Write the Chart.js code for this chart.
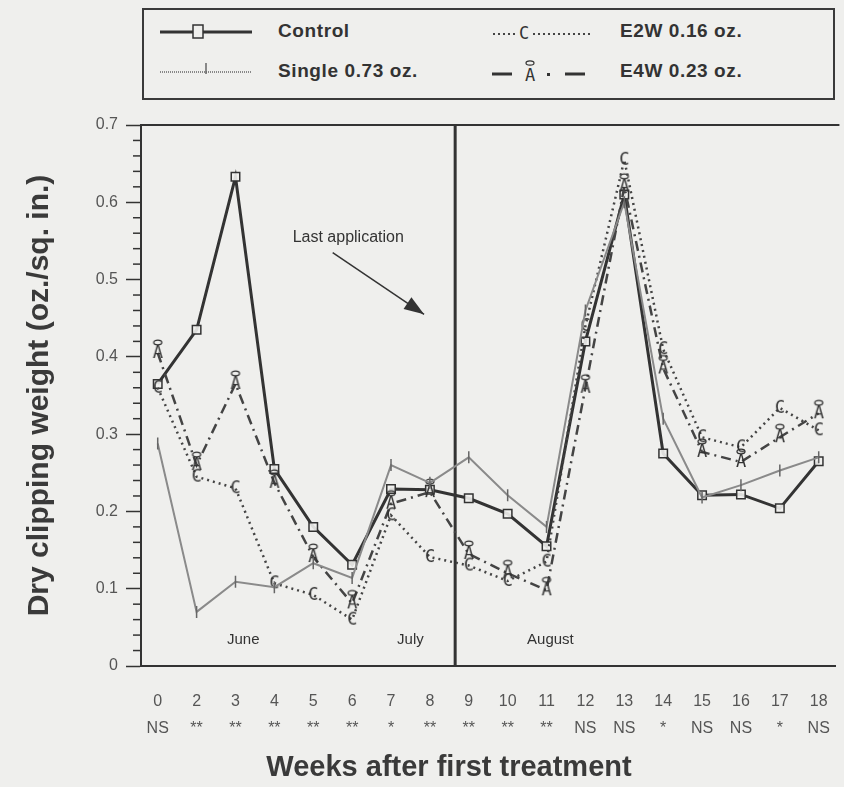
<!DOCTYPE html>
<html>
<head>
<meta charset="utf-8">
<script src="https://cdn.jsdelivr.net/npm/chart.js@4/dist/chart.umd.min.js"></script>
<style>
  body { margin: 0; background: #efefed; font-family: "Liberation Sans", Arial, sans-serif; }
  #wrap { position: relative; width: 844px; height: 787px; }
  #clipChart { position: absolute; left: 0; top: 0; }
  #legendBox {
    position: absolute; left: 142px; top: 8px; width: 689px; height: 88px;
    border: 2px solid #3a3a3a; background: #efefed;
  }
  .lg { position: absolute; font-weight: bold; font-size: 19px; color: #333; letter-spacing: 0.6px; }
</style>
</head>
<body>
<div id="wrap">
  <canvas id="clipChart" width="844" height="787"></canvas>
  <div id="legendBox">
    <svg width="689" height="88" style="position:absolute;left:0;top:0">
      <!-- Control -->
      <line x1="16" y1="22" x2="108" y2="22" stroke="#333" stroke-width="3"/>
      <rect x="49" y="15" width="10" height="13" fill="#efefed" stroke="#333" stroke-width="1.5"/>
      <!-- Single -->
      <line x1="16" y1="62" x2="108" y2="62" stroke="#888" stroke-width="2" stroke-dasharray="1,1"/>
      <line x1="62" y1="53" x2="62" y2="64" stroke="#666" stroke-width="1.5"/>
      <!-- E2W -->
      <line x1="349" y1="24" x2="449" y2="24" stroke="#444" stroke-width="2" stroke-dasharray="2,3"/>
      <rect x="373" y="11" width="14" height="19" fill="#efefed"/>
      <text x="380" y="29" text-anchor="middle" font-size="17" fill="#333" font-family="DejaVu Sans Mono">C</text>
      <!-- E4W -->
      <line x1="348" y1="64" x2="368" y2="64" stroke="#333" stroke-width="3"/>
      <text x="386" y="71" text-anchor="middle" font-size="17" fill="#333" font-family="DejaVu Sans Mono">A</text>
      <ellipse cx="386" cy="53" rx="4" ry="2.2" fill="none" stroke="#333" stroke-width="1.2"/>
      <rect x="403" y="63" width="3" height="3" fill="#333"/>
      <line x1="421" y1="64" x2="441" y2="64" stroke="#333" stroke-width="3"/>
    </svg>
    <div class="lg" style="left:134px;top:10px">Control</div>
    <div class="lg" style="left:134px;top:50px">Single 0.73 oz.</div>
    <div class="lg" style="left:476px;top:10px">E2W 0.16 oz.</div>
    <div class="lg" style="left:476px;top:50px">E4W 0.23 oz.</div>
  </div>
</div>
<script>
// weeks after first treatment (week 1 not sampled) and significance row
const weekLabels = ['0', '2', '3', '4', '5', '6', '7', '8', '9', '10', '11', '12', '13', '14', '15', '16', '17', '18'];
const sigLabels = ['NS', '**', '**', '**', '**', '**', '*', '**', '**', '**', '**', 'NS', 'NS', '*', 'NS', 'NS', '*', 'NS'];

// dry clipping weight, oz./sq. in.
const controlValues = [0.365, 0.435, 0.633, 0.255, 0.18, 0.131, 0.229, 0.228, 0.217, 0.197, 0.155, 0.42, 0.61, 0.275, 0.221, 0.222, 0.204, 0.265];
const singleValues = [0.288, 0.07, 0.109, 0.102, 0.133, 0.114, 0.26, 0.237, 0.27, 0.221, 0.18, 0.46, 0.60, 0.32, 0.218, 0.234, 0.253, 0.27];
const e2wValues = [0.36, 0.245, 0.23, 0.107, 0.092, 0.06, 0.195, 0.141, 0.13, 0.11, 0.135, 0.44, 0.655, 0.41, 0.296, 0.283, 0.334, 0.305];
const e4wValues = [0.405, 0.26, 0.365, 0.237, 0.141, 0.081, 0.21, 0.225, 0.145, 0.12, 0.098, 0.36, 0.62, 0.385, 0.277, 0.264, 0.296, 0.327];

const lastApplication = 7.65;   // between week 8 and week 9
const monthNotes = [
    { text: 'June', x: 2.2 },
    { text: 'July', x: 6.5 },
    { text: 'August', x: 10.1 }
];

function toPoints(values) {
    return values.map((v, i) => ({ x: i, y: v }));
}

// letter markers like the old plotting program used
function letterMarker(ch, ring) {
    const c = document.createElement('canvas');
    c.width = 16;
    c.height = 30;
    const g = c.getContext('2d');
    g.fillStyle = '#333';
    g.font = '17px "DejaVu Sans Mono"';
    g.textAlign = 'center';
    g.textBaseline = 'middle';
    g.fillText(ch, 8, 16);
    if (ring) {
        g.strokeStyle = '#333';
        g.lineWidth = 1.3;
        g.beginPath();
        g.ellipse(8, 4.5, 4, 2.3, 0, 0, Math.PI * 2);
        g.stroke();
    }
    return c;
}

const markerC = letterMarker('C', false);
const markerA = letterMarker('A', true);

const extrasPlugin = {
    id: 'extras',
    beforeDatasetsDraw(chart) {
        const { ctx, chartArea, scales } = chart;
        const x = scales.x.getPixelForValue(lastApplication);
        ctx.save();
        ctx.strokeStyle = '#333';
        ctx.lineWidth = 3;
        ctx.beginPath();
        ctx.moveTo(x, chartArea.top);
        ctx.lineTo(x, chartArea.bottom);
        ctx.stroke();
        // top edge of plot box
        ctx.lineWidth = 2;
        ctx.beginPath();
        ctx.moveTo(chartArea.left, chartArea.top);
        ctx.lineTo(chartArea.right + 4, chartArea.top);
        ctx.stroke();
        // minor y ticks
        ctx.lineWidth = 1.5;
        const y = scales.y;
        for (let k = 0; k <= 35; k++) {
            if (k % 5 === 0) continue;
            const py = y.getPixelForValue(k * 0.02);
            ctx.beginPath();
            ctx.moveTo(chartArea.left - 8, py);
            ctx.lineTo(chartArea.left, py);
            ctx.stroke();
        }
        ctx.restore();
    },
    afterDraw(chart) {
        const { ctx, scales } = chart;
        const xs = scales.x, ys = scales.y;
        ctx.save();
        ctx.fillStyle = '#333';
        ctx.font = '15px "Liberation Sans"';
        ctx.textAlign = 'center';
        ctx.textBaseline = 'middle';
        monthNotes.forEach(m => {
            ctx.fillText(m.text, xs.getPixelForValue(m.x), ys.getPixelForValue(0.034));
        });
        ctx.font = '16px "Liberation Sans"';
        ctx.fillText('Last application', xs.getPixelForValue(4.9), ys.getPixelForValue(0.554));

        // arrow
        const x1 = xs.getPixelForValue(4.5), y1 = ys.getPixelForValue(0.535);
        const x2 = xs.getPixelForValue(6.85), y2 = ys.getPixelForValue(0.455);
        ctx.strokeStyle = '#333';
        ctx.lineWidth = 1.5;
        ctx.beginPath();
        ctx.moveTo(x1, y1);
        ctx.lineTo(x2, y2);
        ctx.stroke();
        const ang = Math.atan2(y2 - y1, x2 - x1);
        ctx.beginPath();
        ctx.moveTo(x2, y2);
        ctx.lineTo(x2 - 20 * Math.cos(ang) + 7 * Math.sin(ang), y2 - 20 * Math.sin(ang) - 7 * Math.cos(ang));
        ctx.lineTo(x2 - 20 * Math.cos(ang) - 7 * Math.sin(ang), y2 - 20 * Math.sin(ang) + 7 * Math.cos(ang));
        ctx.closePath();
        ctx.fill();

        // x axis title, sits left of plot centre in the original
        ctx.fillStyle = '#3a3a3a';
        ctx.font = 'bold 29px "Liberation Sans"';
        ctx.fillText('Weeks after first treatment', 449, 768);
        ctx.restore();
    }
};

document.addEventListener('DOMContentLoaded', function () {
    const ctx = document.getElementById('clipChart').getContext('2d');
    new Chart(ctx, {
        type: 'line',
        data: {
            datasets: [
                {
                    label: 'Single 0.73 oz.',
                    data: toPoints(singleValues),
                    borderColor: '#8a8a8a',
                    borderWidth: 2,
                    pointStyle: 'line',
                    rotation: 90,
                    pointRadius: 6,
                    pointBorderColor: '#666',
                    pointBorderWidth: 1.5
                },
                {
                    label: 'E2W 0.16 oz.',
                    data: toPoints(e2wValues),
                    borderColor: '#444',
                    borderWidth: 2.5,
                    borderDash: [2, 4],
                    pointStyle: markerC
                },
                {
                    label: 'E4W 0.23 oz.',
                    data: toPoints(e4wValues),
                    borderColor: '#444',
                    borderWidth: 2.5,
                    borderDash: [10, 5, 2, 5],
                    pointStyle: markerA
                },
                {
                    label: 'Control',
                    data: toPoints(controlValues),
                    borderColor: '#333',
                    borderWidth: 3,
                    pointStyle: 'rect',
                    pointRadius: 6,
                    pointBackgroundColor: 'rgba(239,239,237,0.9)',
                    pointBorderColor: '#333',
                    pointBorderWidth: 1.5
                }
            ]
        },
        options: {
            responsive: false,
            animation: false,
            layout: { padding: { top: 125, right: 2, left: 0, bottom: 0 } },
            plugins: {
                legend: { display: false },
                tooltip: { enabled: false }
            },
            scales: {
                x: {
                    type: 'linear',
                    min: -0.43,
                    max: 17.43,
                    afterBuildTicks: scale => {
                        scale.ticks = weekLabels.map((w, i) => ({ value: i }));
                    },
                    afterFit: scale => { scale.height = 121; },
                    ticks: {
                        autoSkip: false,
                        maxRotation: 0,
                        padding: 14,
                        color: '#555',
                        font: { family: 'Liberation Sans', size: 16, lineHeight: 1.7 },
                        callback: v => [weekLabels[v], sigLabels[v]]
                    },
                    grid: { display: false },
                    border: { color: '#333', width: 2 }
                },
                y: {
                    min: 0,
                    max: 0.7,
                    afterFit: scale => { scale.width = 141; },
                    ticks: {
                        stepSize: 0.1,
                        padding: 8,
                        color: '#555',
                        font: { family: 'Liberation Sans', size: 16 },
                        callback: v => v === 0 ? '0' : v.toFixed(1)
                    },
                    grid: { drawOnChartArea: false, tickLength: 15, color: '#333', tickWidth: 1.5 },
                    border: { color: '#333', width: 2 },
                    title: {
                        display: true,
                        text: 'Dry clipping weight (oz./sq. in.)',
                        color: '#3a3a3a',
                        font: { family: 'Liberation Sans', size: 30, weight: 'bold' },
                        padding: { top: 22 }
                    }
                }
            }
        },
        plugins: [extrasPlugin]
    });
});
</script>
</body>
</html>
